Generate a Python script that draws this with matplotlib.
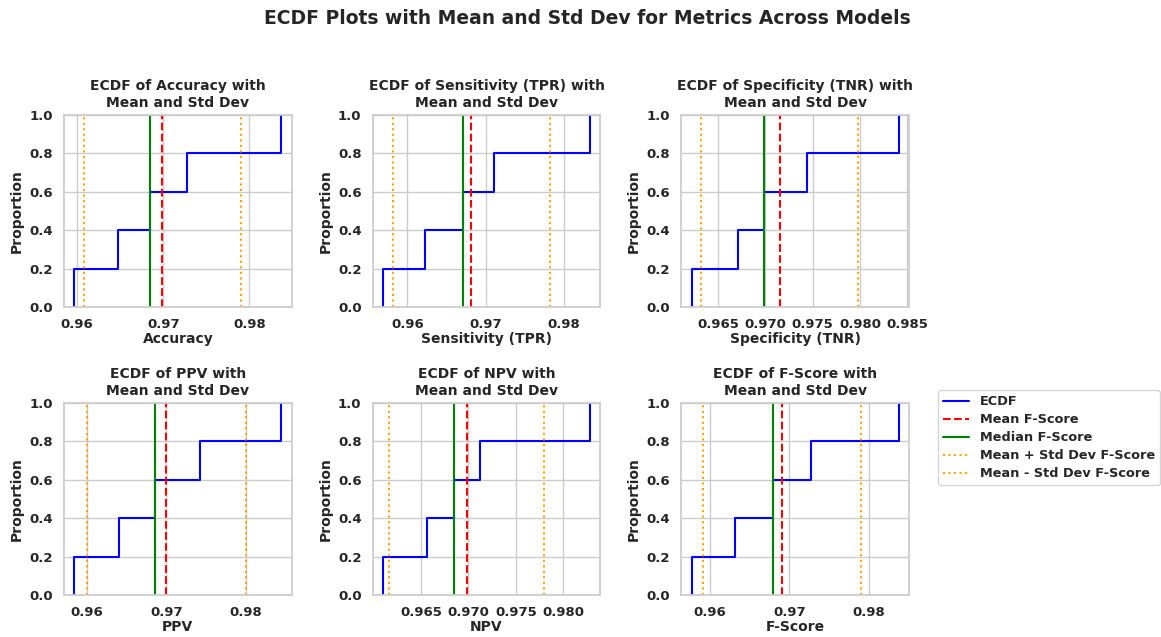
import numpy as np
import matplotlib
matplotlib.use("Agg")
import matplotlib.pyplot as plt
import seaborn as sns

# values of the five models for each metric
metrics = ["Accuracy", "Sensitivity (TPR)", "Specificity (TNR)", "PPV", "NPV", "F-Score"]
accuracy = [0.9597, 0.9648, 0.9685, 0.9728, 0.9837]
sensitivity = [0.9569, 0.9623, 0.9671, 0.9711, 0.9833]
specificity = [0.9622, 0.9671, 0.9699, 0.9744, 0.9841]
ppv = [0.9584, 0.9640, 0.9686, 0.9743, 0.9845]
npv = [0.9610, 0.9656, 0.9685, 0.9712, 0.9828]
fscore = [0.9577, 0.9632, 0.9679, 0.9727, 0.9838]
values = [accuracy, sensitivity, specificity, ppv, npv, fscore]

xticks = [
    [0.96, 0.97, 0.98],
    [0.96, 0.97, 0.98],
    [0.965, 0.970, 0.975, 0.980, 0.985],
    [0.96, 0.97, 0.98],
    [0.965, 0.970, 0.975, 0.980],
    [0.96, 0.97, 0.98],
]
xfmt = ["%.2f", "%.2f", "%.3f", "%.2f", "%.3f", "%.2f"]

sns.set_theme(style="whitegrid")
plt.rcParams["font.family"] = ["DejaVu Sans"]
plt.rcParams["font.weight"] = "bold"
plt.rcParams["axes.labelweight"] = "bold"
plt.rcParams["axes.titleweight"] = "bold"

fig, axes = plt.subplots(2, 3, figsize=(11.61, 6.37), dpi=100)
fig.subplots_adjust(left=0.0551, right=0.783, top=0.8195, bottom=0.066,
                    wspace=0.355, hspace=0.5)

lw = 1.5
for ax, name, vals, ticks, fmt in zip(axes.flat, metrics, values, xticks, xfmt):
    v = np.array(vals)
    mean = v.mean()
    median = np.median(v)
    std = v.std(ddof=1)
    sns.ecdfplot(v, ax=ax, color="blue", lw=lw, label="ECDF")
    ax.axvline(mean, color="red", ls="--", lw=lw, label="Mean F-Score")
    ax.axvline(median, color="green", ls="-", lw=lw, label="Median F-Score")
    ax.axvline(mean + std, color="orange", ls=":", lw=lw, label="Mean + Std Dev F-Score")
    ax.axvline(mean - std, color="orange", ls=":", lw=lw, label="Mean - Std Dev F-Score")
    ax.set_title(f"ECDF of {name} with\nMean and Std Dev", fontsize=10)
    ax.set_xlabel(name, fontsize=10, labelpad=1)
    ax.set_ylabel("Proportion", fontsize=10)
    ax.set_ylim(0, 1)
    ax.set_yticks([0.0, 0.2, 0.4, 0.6, 0.8, 1.0])
    ax.set_xticks(ticks)
    ax.set_xticklabels([fmt % t for t in ticks])
    ax.tick_params(labelsize=9.5, pad=2)

axes[1, 2].legend(loc="upper left", bbox_to_anchor=(1.1, 1.1), fontsize=9.3,
                  labelspacing=0.38)

fig.suptitle("ECDF Plots with Mean and Std Dev for Metrics Across Models",
             fontsize=13.5, fontweight="bold", x=0.506, y=0.971, va="center")

fig.savefig("out.png", dpi=100)
